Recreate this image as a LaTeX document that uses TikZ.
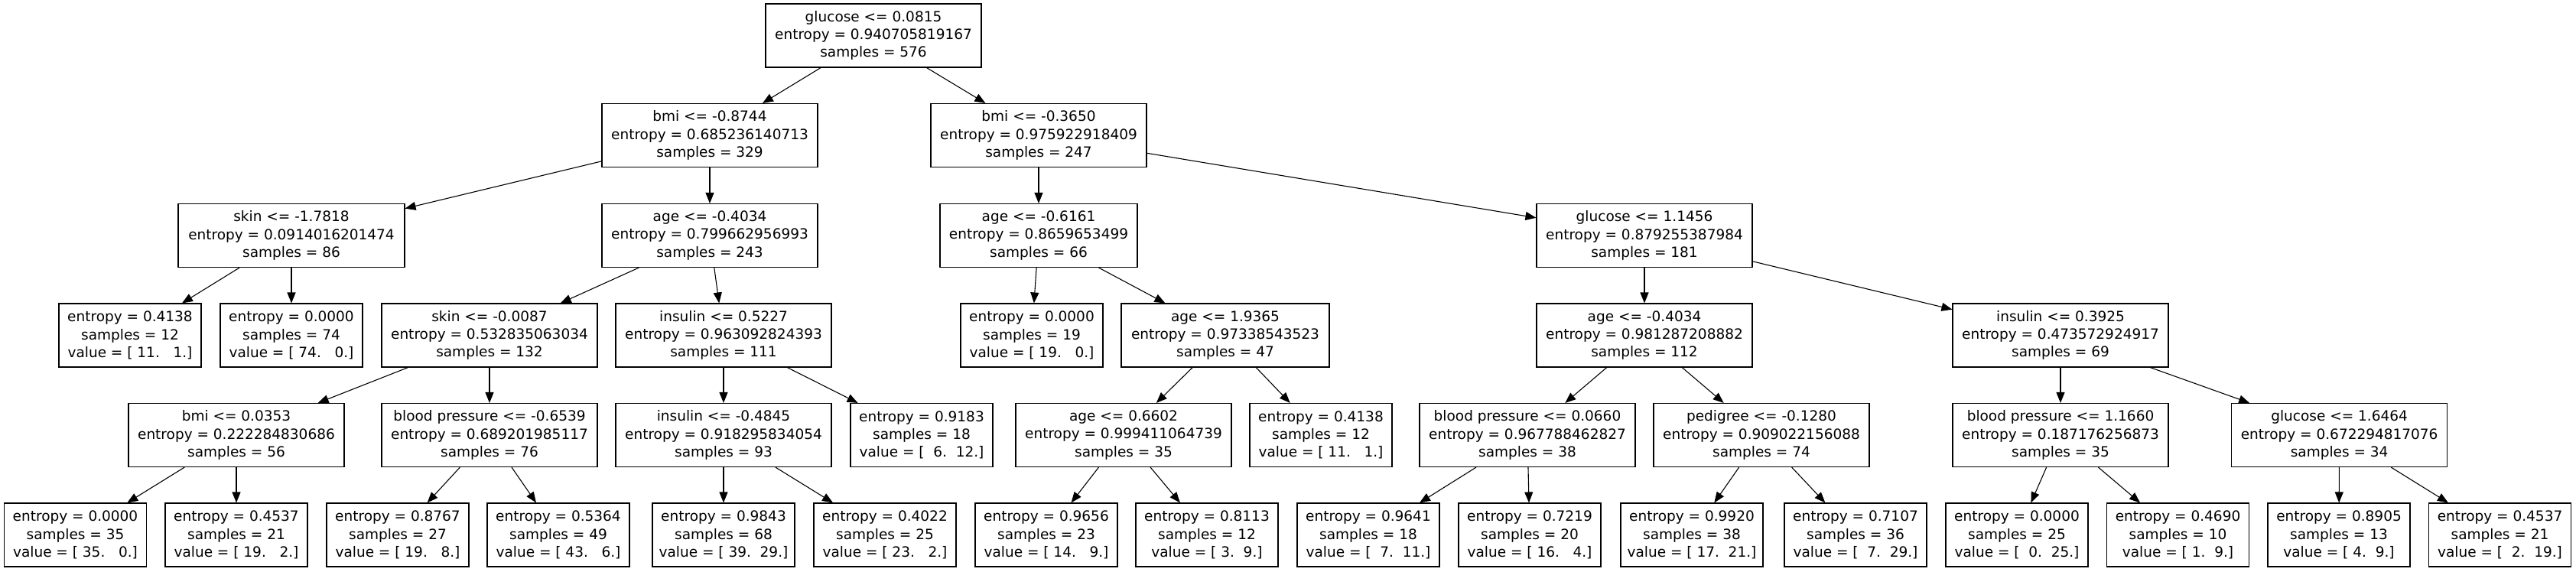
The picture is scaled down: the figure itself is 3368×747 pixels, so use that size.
\documentclass[tikz,border=0pt]{standalone}
\usepackage{fontspec}
\setmainfont{DejaVu Sans}
\usetikzlibrary{arrows.meta}
\tikzset{
  split/.style={draw=black, line width=1.1pt, minimum width=282pt, minimum height=83pt,
    inner sep=0pt, align=center, font=\fontsize{18.5}{23.3}\selectfont},
  leafbox/.style={split, minimum width=186pt},
  edge/.style={-{Triangle[length=14pt,width=11pt]}, line width=1.1pt}
}
\begin{document}
\begin{tikzpicture}[x=1pt,y=-1pt]
\useasboundingbox (0,0) rectangle (3368,747);
% level 0
\node[split] (root) at (1142,46.5) {glucose <= 0.0815\\entropy = 0.940705819167\\samples = 576};
% level 1
\node[split] (bmiA) at (928,177) {bmi <= -0.8744\\entropy = 0.685236140713\\samples = 329};
\node[split] (bmiB) at (1358,177) {bmi <= -0.3650\\entropy = 0.975922918409\\samples = 247};
% level 2
\node[split, minimum width=296pt] (skinA) at (381,308) {skin <= -1.7818\\entropy = 0.0914016201474\\samples = 86};
\node[split] (ageA) at (928,308) {age <= -0.4034\\entropy = 0.799662956993\\samples = 243};
\node[split, minimum width=258pt] (ageB) at (1358,308) {age <= -0.6161\\entropy = 0.8659653499\\samples = 66};
\node[split] (glucB) at (2150,308) {glucose <= 1.1456\\entropy = 0.879255387984\\samples = 181};
% level 3
\node[leafbox] (lA) at (170,438.5) {entropy = 0.4138\\samples = 12\\value = [~11.~~~1.]};
\node[leafbox] (lB) at (381,438.5) {entropy = 0.0000\\samples = 74\\value = [~74.~~~0.]};
\node[split] (skinB) at (640,438.5) {skin <= -0.0087\\entropy = 0.532835063034\\samples = 132};
\node[split] (insA) at (946,438.5) {insulin <= 0.5227\\entropy = 0.963092824393\\samples = 111};
\node[leafbox] (lC) at (1349,438.5) {entropy = 0.0000\\samples = 19\\value = [~19.~~~0.]};
\node[split, minimum width=272pt] (ageC) at (1602,438.5) {age <= 1.9365\\entropy = 0.97338543523\\samples = 47};
\node[split] (ageD) at (2150,438.5) {age <= -0.4034\\entropy = 0.981287208882\\samples = 112};
\node[split] (insC) at (2694,438.5) {insulin <= 0.3925\\entropy = 0.473572924917\\samples = 69};
% level 4
\node[split] (bmiC) at (309,569) {bmi <= 0.0353\\entropy = 0.222284830686\\samples = 56};
\node[split] (bpA) at (640,569) {blood pressure <= -0.6539\\entropy = 0.689201985117\\samples = 76};
\node[split] (insB) at (946,569) {insulin <= -0.4845\\entropy = 0.918295834054\\samples = 93};
\node[leafbox] (lD) at (1205,569) {entropy = 0.9183\\samples = 18\\value = [~~6.~~12.]};
\node[split] (ageE) at (1469,569) {age <= 0.6602\\entropy = 0.999411064739\\samples = 35};
\node[leafbox] (lE) at (1727,569) {entropy = 0.4138\\samples = 12\\value = [~11.~~~1.]};
\node[split] (bpB) at (1997,569) {blood pressure <= 0.0660\\entropy = 0.967788462827\\samples = 38};
\node[split] (ped) at (2303,569) {pedigree <= -0.1280\\entropy = 0.909022156088\\samples = 74};
\node[split] (bpC) at (2694,569) {blood pressure <= 1.1660\\entropy = 0.187176256873\\samples = 35};
\node[split] (glucC) at (3058.6,569) {glucose <= 1.6464\\entropy = 0.672294817076\\samples = 34};
% level 5
\node[leafbox] (m1) at (98.5,699.5) {entropy = 0.0000\\samples = 35\\value = [~35.~~~0.]};
\node[leafbox] (m2) at (309,699.5) {entropy = 0.4537\\samples = 21\\value = [~19.~~~2.]};
\node[leafbox] (m3) at (520,699.5) {entropy = 0.8767\\samples = 27\\value = [~19.~~~8.]};
\node[leafbox] (m4) at (730,699.5) {entropy = 0.5364\\samples = 49\\value = [~43.~~~6.]};
\node[leafbox] (m5) at (946,699.5) {entropy = 0.9843\\samples = 68\\value = [~39.~~29.]};
\node[leafbox] (m6) at (1157,699.5) {entropy = 0.4022\\samples = 25\\value = [~23.~~~2.]};
\node[leafbox] (m7) at (1368,699.5) {entropy = 0.9656\\samples = 23\\value = [~14.~~~9.]};
\node[leafbox] (m8) at (1578,699.5) {entropy = 0.8113\\samples = 12\\value = [~3.~~9.]};
\node[leafbox] (m9) at (1789,699.5) {entropy = 0.9641\\samples = 18\\value = [~~7.~~11.]};
\node[leafbox] (m10) at (2000,699.5) {entropy = 0.7219\\samples = 20\\value = [~16.~~~4.]};
\node[leafbox] (m11) at (2212,699.5) {entropy = 0.9920\\samples = 38\\value = [~17.~~21.]};
\node[leafbox] (m12) at (2426,699.5) {entropy = 0.7107\\samples = 36\\value = [~~7.~~29.]};
\node[leafbox] (m13) at (2637,699.5) {entropy = 0.0000\\samples = 25\\value = [~~0.~~25.]};
\node[leafbox] (m14) at (2847.5,699.5) {entropy = 0.4690\\samples = 10\\value = [~1.~~9.]};
\node[leafbox] (m15) at (3058,699.5) {entropy = 0.8905\\samples = 13\\value = [~4.~~9.]};
\node[leafbox] (m16) at (3268.5,699.5) {entropy = 0.4537\\samples = 21\\value = [~~2.~~19.]};
% edges
\draw[edge] (root) -- (bmiA);
\draw[edge] (root) -- (bmiB);
\draw[edge] (bmiA) -- (skinA);
\draw[edge] (bmiA) -- (ageA);
\draw[edge] (bmiB) -- (ageB);
\draw[edge] (bmiB) -- (glucB);
\draw[edge] (skinA) -- (lA);
\draw[edge] (skinA) -- (lB);
\draw[edge] (ageA) -- (skinB);
\draw[edge] (ageA) -- (insA);
\draw[edge] (ageB) -- (lC);
\draw[edge] (ageB) -- (ageC);
\draw[edge] (glucB) -- (ageD);
\draw[edge] (glucB) -- (insC);
\draw[edge] (skinB) -- (bmiC);
\draw[edge] (skinB) -- (bpA);
\draw[edge] (insA) -- (insB);
\draw[edge] (insA) -- (lD);
\draw[edge] (ageC) -- (ageE);
\draw[edge] (ageC) -- (lE);
\draw[edge] (ageD) -- (bpB);
\draw[edge] (ageD) -- (ped);
\draw[edge] (insC) -- (bpC);
\draw[edge] (insC) -- (glucC);
\draw[edge] (bmiC) -- (m1);
\draw[edge] (bmiC) -- (m2);
\draw[edge] (bpA) -- (m3);
\draw[edge] (bpA) -- (m4);
\draw[edge] (insB) -- (m5);
\draw[edge] (insB) -- (m6);
\draw[edge] (ageE) -- (m7);
\draw[edge] (ageE) -- (m8);
\draw[edge] (bpB) -- (m9);
\draw[edge] (bpB) -- (m10);
\draw[edge] (ped) -- (m11);
\draw[edge] (ped) -- (m12);
\draw[edge] (bpC) -- (m13);
\draw[edge] (bpC) -- (m14);
\draw[edge] (glucC) -- (m15);
\draw[edge] (glucC) -- (m16);
\end{tikzpicture}
\end{document}
